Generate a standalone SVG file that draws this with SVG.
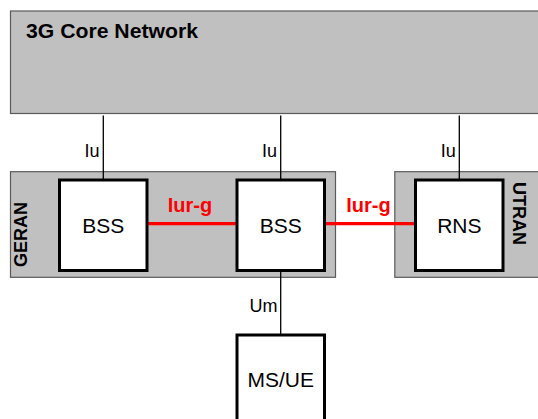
<svg xmlns="http://www.w3.org/2000/svg" width="538" height="419" viewBox="0 0 538 419">
<style>
.area{fill:#c0c0c0;stroke:#5a5a5a;stroke-width:1.2}
.box{fill:#ffffff;stroke:#000000;stroke-width:3}
.lbl{font-family:"Liberation Sans",Arial,sans-serif;font-size:21px;fill:#000;text-anchor:middle}
.hdr{font-family:"Liberation Sans",Arial,sans-serif;font-size:18px;font-weight:bold;fill:#000}
.if{font-family:"Liberation Sans",Arial,sans-serif;font-size:18px;fill:#000;text-anchor:end}
.iur{font-family:"Liberation Sans",Arial,sans-serif;font-size:20px;font-weight:bold;fill:#ff0000;text-anchor:middle}
.wire{stroke:#000;stroke-width:1.3;fill:none}
.red{stroke:#ff0000;stroke-width:3.3;fill:none}
</style>
<rect width="538" height="419" fill="#ffffff"/>
<g id="core">
<rect class="area" x="10.5" y="11" width="540" height="102.5"/>
<text class="hdr" x="26" y="38.3" style="font-size:20px" textLength="172" lengthAdjust="spacingAndGlyphs">3G Core Network</text>
</g>
<g id="geran">
<rect class="area" x="10.5" y="171.7" width="325" height="105.6"/>
<text class="hdr" transform="translate(26.7,234.6) rotate(-90)" text-anchor="middle">GERAN</text>
</g>
<g id="utran">
<rect class="area" x="394.8" y="171.7" width="160" height="105.6"/>
<text class="hdr" transform="translate(513.3,213.4) rotate(90)" text-anchor="middle">UTRAN</text>
</g>
<g id="connectors">
<line class="wire" x1="103.3" y1="115.5" x2="103.3" y2="180"/>
<line class="wire" x1="280.7" y1="115.5" x2="280.7" y2="180"/>
<line class="wire" x1="459.3" y1="115.5" x2="459.3" y2="180"/>
<line class="wire" x1="280.7" y1="270.5" x2="280.7" y2="335"/>
<line class="red" x1="147" y1="223.7" x2="237" y2="223.7"/>
<line class="red" x1="324.5" y1="223.7" x2="415.5" y2="223.7"/>
<text class="if" x="99.5" y="157.3">Iu</text>
<text class="if" x="277" y="157.3">Iu</text>
<text class="if" x="455.8" y="157.3">Iu</text>
<text class="if" x="277.5" y="311.7">Um</text>
<text class="iur" x="190" y="211.7">Iur-g</text>
<text class="iur" x="368.5" y="211.7">Iur-g</text>
</g>
<g id="bss1">
<rect class="box" x="59.5" y="180" width="87.5" height="90.5"/>
<text class="lbl" x="103.3" y="232.8">BSS</text>
</g>
<g id="bss2">
<rect class="box" x="237" y="180" width="87.5" height="90.5"/>
<text class="lbl" x="280.7" y="232.8">BSS</text>
</g>
<g id="rns">
<rect class="box" x="415.5" y="180" width="87.5" height="90.5"/>
<text class="lbl" x="459.3" y="232.8">RNS</text>
</g>
<g id="msue">
<rect class="box" x="237" y="335" width="87.5" height="100"/>
<text class="lbl" x="280.7" y="386.7">MS/UE</text>
</g>
</svg>
